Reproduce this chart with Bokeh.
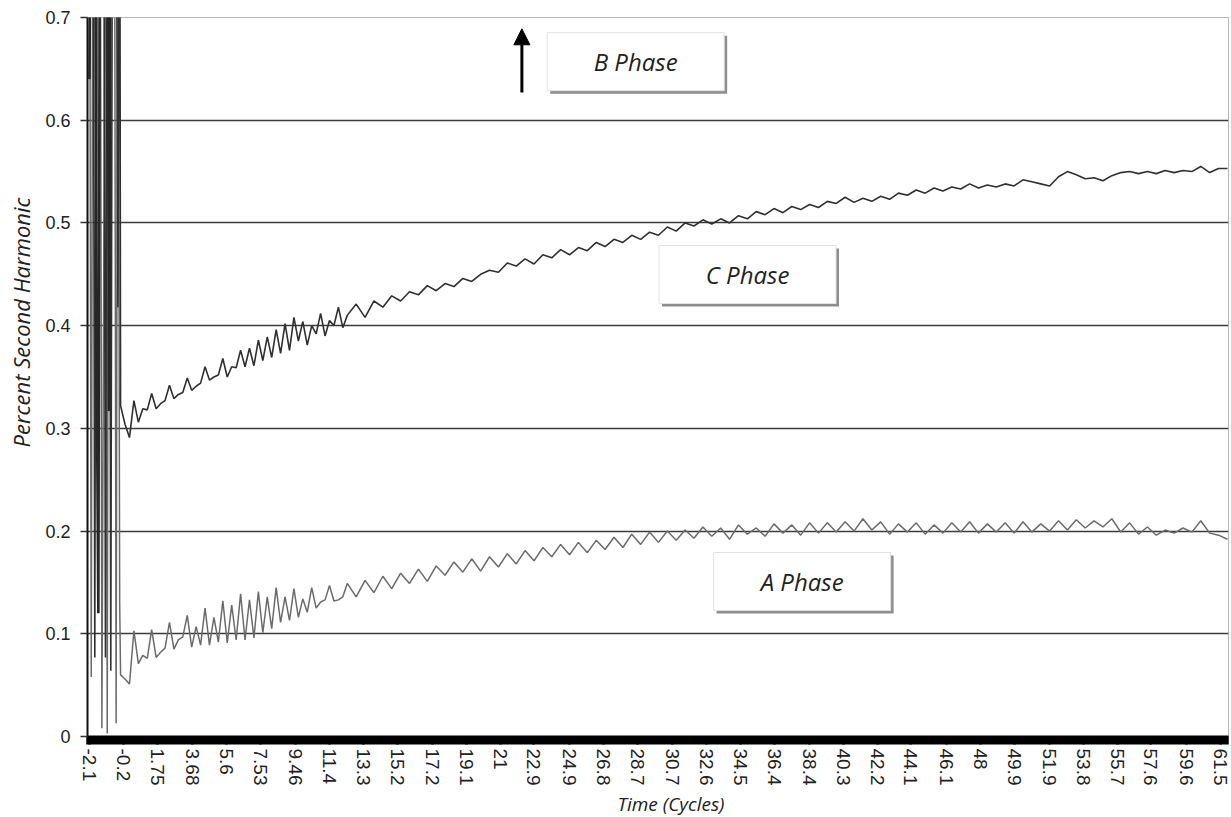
import math
import numpy as np
from bokeh.plotting import figure
from bokeh.models import (FixedTicker, CustomJSTickFormatter, Title, Arrow,
                          NormalHead, ColumnDataSource)
from bokeh.core.properties import value
from bokeh.embed import file_html
from bokeh.resources import INLINE

# ---------------- data ----------------
# x tick labels (Excel category axis, cycles)
x_tick_labels = ["-2.1", "-0.2", "1.75", "3.68", "5.6", "7.53", "9.46", "11.4",
                 "13.3", "15.2", "17.2", "19.1", "21", "22.9", "24.9", "26.8",
                 "28.7", "30.7", "32.6", "34.5", "36.4", "38.4", "40.3", "42.2",
                 "44.1", "46.1", "48", "49.9", "51.9", "53.8", "55.7", "57.6",
                 "59.6", "61.5"]
y_tick_labels = ["0", "0.1", "0.2", "0.3", "0.4", "0.5", "0.6", "0.7"]

# inrush transient (t = -2.1 .. -0.4 cycles)
t_transient = [-2.1, -2.0, -1.9, -1.8, -1.7, -1.6, -1.5, -1.4, -1.3, -1.2,
               -1.1, -1.0, -0.9, -0.8, -0.7, -0.6, -0.5, -0.4]
a_transient = [0.95, 0.058, 0.95, 0.95, 0.41, 0.95, 0.95, 0.008, 0.437, 0.95,
               0.003, 0.95, 0.95, 0.95, 0.95, 0.013, 0.95, 0.13]
c_transient = [0.95, 0.95, 0.95, 0.077, 0.95, 0.95, 0.95, 0.95, 0.95, 0.077,
               0.95, 0.95, 0.064, 0.95, 0.95, 0.95, 0.418, 0.95]
b_transient = [0.64, 0.95, 0.95, 0.95, 0.38, 0.12, 0.95, 0.95, 0.95, 0.95,
               0.95, 0.317, 0.95, 0.95, 0.95, 0.95, 0.95, 0.95]

# sampling: quarter-cycle from -0.35 to 12.4, half-cycle from 12.9 to 61.9
t_fine = [round(-0.35 + 0.25 * k, 2) for k in range(52)]
t_coarse = [round(12.9 + 0.5 * k, 2) for k in range(99)]

a_fine = [0.060, 0.056, 0.051, 0.103, 0.071, 0.079, 0.076, 0.104, 0.077, 0.082,
          0.086, 0.111, 0.085, 0.094, 0.097, 0.118, 0.087, 0.107, 0.089, 0.125,
          0.089, 0.116, 0.092, 0.132, 0.091, 0.128, 0.094, 0.139, 0.094, 0.133,
          0.096, 0.141, 0.101, 0.136, 0.105, 0.145, 0.111, 0.136, 0.113, 0.144,
          0.116, 0.134, 0.121, 0.145, 0.125, 0.131, 0.133, 0.147, 0.132, 0.133,
          0.136, 0.149]
a_coarse = [0.136, 0.152, 0.140, 0.156, 0.144, 0.159, 0.149, 0.163, 0.151, 0.166,
            0.157, 0.170, 0.160, 0.173, 0.161, 0.175, 0.165, 0.178, 0.168, 0.181,
            0.171, 0.184, 0.175, 0.187, 0.177, 0.189, 0.179, 0.191, 0.182, 0.194,
            0.184, 0.197, 0.187, 0.199, 0.189, 0.200, 0.191, 0.201, 0.193, 0.204,
            0.195, 0.203, 0.192, 0.206, 0.197, 0.203, 0.195, 0.207, 0.198, 0.206,
            0.196, 0.208, 0.198, 0.208, 0.199, 0.209, 0.200, 0.212, 0.201, 0.209,
            0.197, 0.207, 0.199, 0.208, 0.197, 0.206, 0.198, 0.208, 0.199, 0.209,
            0.198, 0.207, 0.199, 0.208, 0.198, 0.209, 0.199, 0.207, 0.200, 0.210,
            0.201, 0.211, 0.203, 0.210, 0.204, 0.212, 0.199, 0.208, 0.197, 0.204,
            0.196, 0.201, 0.198, 0.203, 0.199, 0.210, 0.198, 0.196, 0.192]

c_fine = [0.322, 0.304, 0.291, 0.327, 0.306, 0.319, 0.318, 0.334, 0.319, 0.324,
          0.327, 0.342, 0.329, 0.333, 0.335, 0.349, 0.337, 0.341, 0.344, 0.360,
          0.347, 0.350, 0.352, 0.368, 0.350, 0.360, 0.359, 0.376, 0.360, 0.378,
          0.361, 0.386, 0.366, 0.389, 0.369, 0.396, 0.373, 0.402, 0.376, 0.408,
          0.385, 0.404, 0.381, 0.400, 0.392, 0.412, 0.390, 0.405, 0.400, 0.418,
          0.398, 0.410]
c_coarse = [0.421, 0.408, 0.424, 0.418, 0.429, 0.424, 0.433, 0.430, 0.439, 0.434,
            0.441, 0.438, 0.446, 0.443, 0.450, 0.454, 0.452, 0.461, 0.458, 0.465,
            0.460, 0.469, 0.466, 0.474, 0.469, 0.476, 0.473, 0.481, 0.477, 0.484,
            0.481, 0.488, 0.484, 0.491, 0.488, 0.496, 0.492, 0.500, 0.497, 0.503,
            0.499, 0.504, 0.500, 0.507, 0.504, 0.511, 0.508, 0.514, 0.510, 0.516,
            0.513, 0.518, 0.515, 0.521, 0.519, 0.525, 0.520, 0.524, 0.521, 0.526,
            0.523, 0.529, 0.527, 0.532, 0.529, 0.534, 0.531, 0.535, 0.533, 0.538,
            0.534, 0.537, 0.535, 0.538, 0.536, 0.542, 0.540, 0.538, 0.536, 0.545,
            0.550, 0.547, 0.543, 0.544, 0.541, 0.546, 0.549, 0.550, 0.548, 0.550,
            0.548, 0.551, 0.549, 0.551, 0.550, 0.555, 0.549, 0.553, 0.553]

# phase annotation boxes (data coords of box centres)
box_text = ["B Phase", "C Phase", "A Phase"]
box_x = [28.62, 34.91, 37.98]
box_y = [0.657, 0.4498, 0.1509]
# arrow pointing to off-scale B phase
arrow_x = 22.22
arrow_y0 = 0.627
arrow_y1 = 0.689

# ---------------- figure ----------------
X0, X1 = -2.21, 61.96
FRAME_W = 1148.0
FRAME_H = 719.0
p = figure(width=1231, height=817, x_range=(X0, X1), y_range=(0, 0.7),
           output_backend="svg", toolbar_location=None, title=None,
           min_border_left=80, min_border_right=3, min_border_top=17,
           min_border_bottom=81)
p.background_fill_color = "white"
p.border_fill_color = "white"
p.outline_line_color = "#b5b5b5"
p.outline_line_width = 1

px_x = FRAME_W / (X1 - X0)
px_y = FRAME_H / 0.7

# series
tA = t_transient + t_fine + t_coarse
vA = a_transient + a_fine + a_coarse
tC = t_transient + t_fine + t_coarse
vC = c_transient + c_fine + c_coarse

p.line(x="t", y="v", source=ColumnDataSource(dict(t=tA, v=vA)),
       line_color="#6b6b6b", line_width=1.5)
p.line(x="t", y="v", source=ColumnDataSource(dict(t=tC, v=vC)),
       line_color="#303030", line_width=1.6)
p.line(x="t", y="v", source=ColumnDataSource(dict(t=t_transient, v=b_transient)),
       line_color="#262626", line_width=2.6)

# x axis
x_vals = [float(s) for s in x_tick_labels]
bar_ticks = [round(v, 3) for v in np.arange(X0, X1 + 0.001, 0.1)]
p.xaxis.ticker = FixedTicker(ticks=x_vals, minor_ticks=bar_ticks)
p.xaxis.formatter = CustomJSTickFormatter(
    args=dict(vals=x_vals, labels=x_tick_labels),
    code="const i = vals.findIndex(v => Math.abs(v - tick) < 1e-6); return i >= 0 ? labels[i] : '';")
p.xaxis.major_label_orientation = "vertical"
p.xaxis.major_label_text_font = "Liberation Sans"
p.xaxis.major_label_text_font_size = "19px"
p.xaxis.major_label_text_color = "#222222"
p.xaxis.major_label_standoff = 4
p.xaxis.major_tick_in = 0
p.xaxis.major_tick_out = 8
p.xaxis.major_tick_line_width = 2.5
p.xaxis.major_tick_line_color = "black"
p.xaxis.minor_tick_in = 0
p.xaxis.minor_tick_out = 8
p.xaxis.minor_tick_line_width = 2.5
p.xaxis.minor_tick_line_color = "black"
p.xaxis.axis_line_color = "black"
p.xaxis.axis_line_width = 2

# y axis
y_vals = [float(s) for s in y_tick_labels]
yticker = FixedTicker(ticks=y_vals, minor_ticks=[])
p.yaxis.ticker = yticker
p.yaxis.formatter = CustomJSTickFormatter(
    args=dict(vals=y_vals, labels=y_tick_labels),
    code="const i = vals.findIndex(v => Math.abs(v - tick) < 1e-6); return i >= 0 ? labels[i] : '';")
p.yaxis.major_label_text_font = "Liberation Sans"
p.yaxis.major_label_text_font_size = "18px"
p.yaxis.major_label_text_color = "#222222"
p.yaxis.major_label_standoff = 10
p.yaxis.major_tick_in = 0
p.yaxis.major_tick_out = 7
p.yaxis.major_tick_line_width = 1.5
p.yaxis.major_tick_line_color = "#333333"
p.yaxis.minor_tick_line_color = None
p.yaxis.axis_line_color = "#111111"
p.yaxis.axis_line_width = 2

p.xgrid.visible = False
p.ygrid.ticker = yticker
p.ygrid.grid_line_color = "#3c3c3c"
p.ygrid.grid_line_width = 1.5

# axis titles
p.add_layout(Title(text="Percent Second Harmonic", align="right", offset=180,
                   vertical_align="top", standoff=10,
                   text_font="Open Sans", text_font_style="italic",
                   text_font_size="22px", text_color="#222222"), "left")
p.add_layout(Title(text="Time (Cycles)", align="left", offset=530,
                   vertical_align="bottom", standoff=0,
                   text_font="Open Sans", text_font_style="italic",
                   text_font_size="19px", text_color="#222222"), "below")

# annotation boxes with shadow
shadow_x = [x + 3.0 / px_x for x in box_x]
shadow_y = [y - 3.0 / px_y for y in box_y]
p.rect(x=shadow_x, y=shadow_y, width=177, height=58, width_units="screen",
       height_units="screen", fill_color="#8e8e8e", line_color=None)
p.rect(x=box_x, y=box_y, width=177, height=58, width_units="screen",
       height_units="screen", fill_color="white", line_color="#e2e2e2",
       line_width=1)
p.text(x=box_x, y=box_y, text=box_text, text_font=value("Open Sans"),
       text_font_style="italic", text_font_size="24px", text_align="center",
       text_baseline="middle", text_color="#222222")

p.add_layout(Arrow(end=NormalHead(size=16, fill_color="black", line_color="black"),
                   x_start=arrow_x, y_start=arrow_y0, x_end=arrow_x, y_end=arrow_y1,
                   line_width=3, line_color="black"))

open("out.html", "w").write(file_html(p, INLINE))
